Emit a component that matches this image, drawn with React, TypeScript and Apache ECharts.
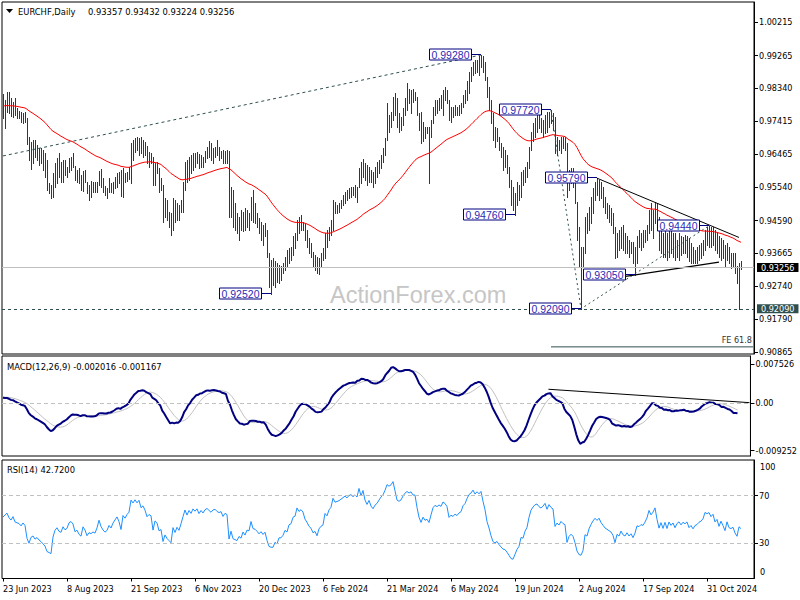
import React, { useEffect, useRef } from "react";
import * as echarts from "echarts";

// ---------------- data ----------------
const HIGH = [
  0.9817,0.9800,0.9822,0.9822,0.9807,0.9794,0.9805,0.9779,0.9769,0.9767,
  0.9763,0.9767,0.9750,0.9696,0.9682,0.9687,0.9687,0.9673,0.9664,0.9665,
  0.9659,0.9649,0.9630,0.9564,0.9560,0.9593,0.9621,0.9635,0.9649,0.9626,
  0.9630,0.9630,0.9611,0.9635,0.9640,0.9649,0.9614,0.9602,0.9607,0.9588,
  0.9599,0.9602,0.9569,0.9560,0.9571,0.9569,0.9567,0.9569,0.9599,0.9605,
  0.9580,0.9558,0.9552,0.9579,0.9564,0.9569,0.9583,0.9593,0.9596,0.9602,
  0.9607,0.9593,0.9597,0.9611,0.9678,0.9687,0.9693,0.9696,0.9693,0.9696,
  0.9687,0.9682,0.9670,0.9653,0.9650,0.9639,0.9622,0.9625,0.9608,0.9580,
  0.9560,0.9523,0.9517,0.9483,0.9480,0.9523,0.9517,0.9509,0.9503,0.9517,
  0.9568,0.9625,0.9630,0.9640,0.9645,0.9650,0.9650,0.9652,0.9648,0.9645,
  0.9640,0.9655,0.9668,0.9683,0.9678,0.9664,0.9668,0.9687,0.9668,0.9657,
  0.9659,0.9655,0.9659,0.9655,0.9555,0.9546,0.9508,0.9480,0.9470,0.9489,
  0.9484,0.9494,0.9489,0.9480,0.9527,0.9546,0.9508,0.9480,0.9465,0.9456,
  0.9447,0.9451,0.9433,0.9366,0.9347,0.9352,0.9343,0.9338,0.9333,0.9329,
  0.9338,0.9357,0.9376,0.9380,0.9385,0.9414,0.9423,0.9461,0.9470,0.9475,
  0.9456,0.9451,0.9433,0.9409,0.9395,0.9371,0.9362,0.9357,0.9352,0.9366,
  0.9380,0.9423,0.9433,0.9442,0.9461,0.9517,0.9512,0.9503,0.9508,0.9517,
  0.9531,0.9541,0.9546,0.9550,0.9555,0.9555,0.9560,0.9555,0.9607,0.9626,
  0.9633,0.9623,0.9617,0.9612,0.9602,0.9597,0.9612,0.9626,0.9631,0.9645,
  0.9664,0.9692,0.9791,0.9758,0.9767,0.9810,0.9819,0.9805,0.9763,0.9753,
  0.9777,0.9805,0.9848,0.9833,0.9829,0.9833,0.9824,0.9810,0.9763,0.9767,
  0.9739,0.9725,0.9725,0.9725,0.9744,0.9782,0.9801,0.9801,0.9805,0.9815,
  0.9829,0.9836,0.9829,0.9801,0.9782,0.9782,0.9786,0.9782,0.9786,0.9791,
  0.9815,0.9829,0.9853,0.9881,0.9895,0.9909,0.9914,0.9914,0.9925,0.9928,
  0.9925,0.9909,0.9867,0.9838,0.9801,0.9763,0.9725,0.9720,0.9697,0.9678,
  0.9668,0.9659,0.9645,0.9612,0.9574,0.9555,0.9536,0.9569,0.9560,0.9597,
  0.9602,0.9612,0.9626,0.9668,0.9711,0.9734,0.9749,0.9765,0.9758,0.9749,
  0.9744,0.9758,0.9767,0.9767,0.9772,0.9763,0.9753,0.9697,0.9687,0.9697,
  0.9697,0.9697,0.9678,0.9602,0.9607,0.9607,0.9569,0.9512,0.9442,0.9385,
  0.9385,0.9470,0.9480,0.9498,0.9527,0.9550,0.9569,0.9579,0.9574,0.9569,
  0.9555,0.9527,0.9508,0.9503,0.9494,0.9480,0.9442,0.9423,0.9433,0.9442,
  0.9446,0.9423,0.9414,0.9404,0.9399,0.9399,0.9385,0.9414,0.9433,0.9423,
  0.9433,0.9433,0.9446,0.9489,0.9508,0.9489,0.9512,0.9508,0.9470,0.9442,
  0.9423,0.9433,0.9423,0.9433,0.9428,0.9423,0.9423,0.9404,0.9423,0.9414,
  0.9411,0.9418,0.9414,0.9409,0.9395,0.9385,0.9376,0.9385,0.9390,0.9395,
  0.9404,0.9433,0.9442,0.9444,0.9440,0.9442,0.9433,0.9423,0.9414,0.9409,
  0.9404,0.9390,0.9395,0.9385,0.9366,0.9366,0.9366,0.9329,0.9338,0.93432,
];
const LOW = [
  0.9750,0.9722,0.9767,0.9763,0.9756,0.9753,0.9758,0.9750,0.9749,0.9737,
  0.9734,0.9737,0.9675,0.9630,0.9605,0.9621,0.9640,0.9630,0.9616,0.9621,
  0.9602,0.9583,0.9545,0.9536,0.9522,0.9527,0.9555,0.9564,0.9583,0.9569,
  0.9569,0.9588,0.9583,0.9597,0.9602,0.9611,0.9574,0.9569,0.9564,0.9545,
  0.9543,0.9569,0.9536,0.9517,0.9527,0.9541,0.9541,0.9541,0.9560,0.9555,
  0.9541,0.9531,0.9522,0.9541,0.9541,0.9536,0.9550,0.9555,0.9564,0.9529,
  0.9527,0.9569,0.9571,0.9578,0.9564,0.9630,0.9653,0.9659,0.9645,0.9650,
  0.9639,0.9645,0.9622,0.9611,0.9622,0.9560,0.9560,0.9594,0.9540,0.9545,
  0.9455,0.9469,0.9460,0.9441,0.9418,0.9432,0.9455,0.9460,0.9460,0.9483,
  0.9483,0.9545,0.9568,0.9574,0.9593,0.9602,0.9612,0.9621,0.9607,0.9612,
  0.9612,0.9626,0.9636,0.9640,0.9631,0.9621,0.9640,0.9645,0.9631,0.9636,
  0.9621,0.9621,0.9621,0.9470,0.9470,0.9442,0.9433,0.9423,0.9404,0.9433,
  0.9428,0.9433,0.9442,0.9433,0.9461,0.9456,0.9451,0.9442,0.9423,0.9404,
  0.9390,0.9414,0.9357,0.9272,0.9252,0.9276,0.9272,0.9286,0.9281,0.9291,
  0.9310,0.9319,0.9329,0.9338,0.9347,0.9362,0.9380,0.9404,0.9423,0.9433,
  0.9433,0.9404,0.9385,0.9366,0.9357,0.9329,0.9319,0.9310,0.9308,0.9329,
  0.9347,0.9352,0.9385,0.9404,0.9418,0.9433,0.9480,0.9480,0.9484,0.9494,
  0.9503,0.9508,0.9517,0.9522,0.9527,0.9531,0.9527,0.9512,0.9555,0.9565,
  0.9583,0.9574,0.9560,0.9569,0.9569,0.9555,0.9565,0.9583,0.9593,0.9607,
  0.9626,0.9645,0.9687,0.9711,0.9725,0.9744,0.9758,0.9725,0.9711,0.9716,
  0.9730,0.9758,0.9772,0.9791,0.9763,0.9796,0.9801,0.9758,0.9716,0.9678,
  0.9683,0.9692,0.9706,0.9565,0.9697,0.9734,0.9758,0.9763,0.9772,0.9777,
  0.9758,0.9801,0.9791,0.9744,0.9739,0.9753,0.9758,0.9758,0.9758,0.9763,
  0.9782,0.9791,0.9801,0.9819,0.9853,0.9871,0.9876,0.9881,0.9871,0.9895,
  0.9881,0.9857,0.9810,0.9772,0.9734,0.9687,0.9668,0.9683,0.9659,0.9640,
  0.9602,0.9612,0.9593,0.9555,0.9503,0.9489,0.9476,0.9503,0.9517,0.9527,
  0.9560,0.9569,0.9583,0.9607,0.9659,0.9683,0.9697,0.9711,0.9720,0.9711,
  0.9697,0.9706,0.9711,0.9725,0.9734,0.9716,0.9650,0.9645,0.9659,0.9650,
  0.9664,0.9659,0.9527,0.9546,0.9565,0.9555,0.9508,0.9404,0.9329,0.9209,
  0.9329,0.9366,0.9423,0.9433,0.9451,0.9480,0.9517,0.9531,0.9517,0.9522,
  0.9498,0.9480,0.9465,0.9456,0.9446,0.9423,0.9352,0.9357,0.9376,0.9380,
  0.9376,0.9366,0.9366,0.9357,0.9366,0.9338,0.9305,0.9338,0.9385,0.9376,
  0.9385,0.9399,0.9404,0.9423,0.9433,0.9409,0.9451,0.9433,0.9376,0.9366,
  0.9357,0.9357,0.9347,0.9357,0.9366,0.9357,0.9347,0.9357,0.9347,0.9362,
  0.9366,0.9366,0.9357,0.9343,0.9338,0.9338,0.9338,0.9338,0.9347,0.9352,
  0.9362,0.9376,0.9390,0.9385,0.9385,0.9390,0.9376,0.9366,0.9357,0.9347,
  0.9352,0.9329,0.9347,0.9338,0.9324,0.9329,0.9310,0.9281,0.9209,0.93224,
];
const CLOSE = [
  0.9780,0.9790,0.9800,0.9780,0.9770,0.9785,0.9762,0.9758,0.9755,0.9745,
  0.9755,0.9745,0.9680,0.9645,0.9665,0.9670,0.9650,0.9655,0.9640,0.9630,
  0.9615,0.9600,0.9555,0.9545,0.9535,0.9585,0.9610,0.9620,0.9600,0.9595,
  0.9615,0.9600,0.9605,0.9625,0.9630,0.9620,0.9585,0.9590,0.9570,0.9560,
  0.9590,0.9575,0.9545,0.9555,0.9550,0.9555,0.9550,0.9565,0.9590,0.9565,
  0.9550,0.9540,0.9545,0.9560,0.9550,0.9565,0.9575,0.9585,0.9570,0.9540,
  0.9590,0.9580,0.9595,0.9605,0.9670,0.9660,0.9680,0.9670,0.9685,0.9660,
  0.9670,0.9655,0.9630,0.9640,0.9635,0.9570,0.9610,0.9600,0.9555,0.9560,
  0.9470,0.9500,0.9470,0.9450,0.9430,0.9505,0.9465,0.9495,0.9470,0.9510,
  0.9560,0.9615,0.9580,0.9620,0.9600,0.9640,0.9625,0.9645,0.9615,0.9640,
  0.9625,0.9650,0.9660,0.9650,0.9640,0.9655,0.9660,0.9650,0.9645,0.9650,
  0.9630,0.9645,0.9640,0.9490,0.9530,0.9460,0.9450,0.9440,0.9460,0.9445,
  0.9475,0.9450,0.9475,0.9470,0.9520,0.9470,0.9465,0.9450,0.9430,0.9440,
  0.9420,0.9430,0.9365,0.9300,0.9290,0.9290,0.9310,0.9295,0.9320,0.9320,
  0.9330,0.9350,0.9340,0.9370,0.9375,0.9405,0.9410,0.9455,0.9440,0.9450,
  0.9440,0.9410,0.9395,0.9375,0.9365,0.9340,0.9345,0.9320,0.9345,0.9355,
  0.9360,0.9410,0.9400,0.9430,0.9445,0.9505,0.9490,0.9495,0.9500,0.9510,
  0.9520,0.9530,0.9525,0.9540,0.9545,0.9540,0.9550,0.9545,0.9600,0.9580,
  0.9620,0.9590,0.9575,0.9600,0.9580,0.9570,0.9590,0.9600,0.9620,0.9640,
  0.9655,0.9690,0.9750,0.9745,0.9760,0.9800,0.9770,0.9735,0.9730,0.9740,
  0.9770,0.9795,0.9810,0.9805,0.9815,0.9805,0.9805,0.9765,0.9725,0.9700,
  0.9725,0.9710,0.9715,0.9700,0.9735,0.9775,0.9790,0.9785,0.9795,0.9790,
  0.9815,0.9810,0.9800,0.9760,0.9770,0.9765,0.9775,0.9770,0.9780,0.9785,
  0.9810,0.9820,0.9845,0.9870,0.9880,0.9900,0.9890,0.9905,0.9900,0.9915,
  0.9890,0.9865,0.9820,0.9790,0.9745,0.9700,0.9690,0.9695,0.9670,0.9650,
  0.9630,0.9625,0.9600,0.9565,0.9520,0.9510,0.9525,0.9540,0.9550,0.9580,
  0.9575,0.9600,0.9615,0.9660,0.9700,0.9720,0.9735,0.9740,0.9730,0.9725,
  0.9735,0.9750,0.9730,0.9755,0.9745,0.9740,0.9665,0.9680,0.9670,0.9685,
  0.9675,0.9670,0.9555,0.9580,0.9590,0.9575,0.9520,0.9420,0.9360,0.9350,
  0.9370,0.9455,0.9440,0.9485,0.9515,0.9540,0.9560,0.9545,0.9560,0.9530,
  0.9510,0.9490,0.9480,0.9470,0.9460,0.9435,0.9370,0.9410,0.9395,0.9420,
  0.9390,0.9380,0.9395,0.9370,0.9380,0.9350,0.9370,0.9405,0.9400,0.9410,
  0.9405,0.9420,0.9440,0.9480,0.9460,0.9475,0.9500,0.9445,0.9390,0.9420,
  0.9380,0.9415,0.9370,0.9410,0.9385,0.9400,0.9365,0.9390,0.9400,0.9380,
  0.9395,0.9385,0.9395,0.9360,0.9370,0.9350,0.9365,0.9370,0.9380,0.9385,
  0.9395,0.9425,0.9420,0.9425,0.9410,0.9420,0.9390,0.9400,0.9370,0.9390,
  0.9370,0.9345,0.9380,0.9350,0.9345,0.9350,0.9320,0.9300,0.9336,0.93256,
];

// indicator starting values read at the first bar of the picture
const EMA55_START = 0.9784;
const EMA12_START = 0.9790;
const EMA26_START = 0.9778;
const SIGNAL_START = 0.0012;
const RSI_GAIN_START = 0.00112;
const RSI_LOSS_START = 0.00104;

const DATE_TICKS = [
  "23 Jun 2023", "8 Aug 2023", "21 Sep 2023", "6 Nov 2023", "20 Dec 2023", "6 Feb 2024",
  "21 Mar 2024", "6 May 2024", "19 Jun 2024", "2 Aug 2024", "17 Sep 2024", "31 Oct 2024",
];
const PRICE_TICKS = [1.00215, 0.99265, 0.9834, 0.97415, 0.96465, 0.9554, 0.9459, 0.93665, 0.9274, 0.9179, 0.90865];
const MACD_TICKS = [0.007526, 0, -0.009252];
const RSI_TICKS = [30, 70];

const PIVOT_INDEX = [134, 239, 256, 274, 289, 297, 316, 353];
const PIVOT_PRICE = [0.9252, 0.9928, 0.9476, 0.9772, 0.9209, 0.9579, 0.9305, 0.9444];

const LONG_TREND = [[0, 0.9642], [239, 0.9928]];
const TRI_UPPER = [[297, 0.9579], [368, 0.9411]];
const TRI_LOWER = [[308, 0.9298], [358, 0.9341]];
const FIB_PATH = [[274, 0.9772], [289, 0.9209], [353, 0.9444]];
const FE_LEVEL = [[274, 0.9101], [375, 0.9101]];
const MACD_TREND = [[274, 0.00268], [375, 0.00008]];

const LAST_PRICE = 0.93256;
const SUPPORT = 0.9209;

const HEADER_NAME = "EURCHF,Daily";
const HEADER_OHLC = "0.93357 0.93432 0.93224 0.93256";
const MACD_TITLE = "MACD(12,26,9) -0.002016 -0.001167";
const RSI_TITLE = "RSI(14) 42.7200";

// ---------------- helpers ----------------
const MONTHS = ["Jan", "Feb", "Mar", "Apr", "May", "Jun", "Jul", "Aug", "Sep", "Oct", "Nov", "Dec"];
const N_CAT = CLOSE.length + 6;
function buildDates(n: number) {
  const out: string[] = [];
  const d = new Date(Date.UTC(2023, 5, 23));
  while (out.length < n) {
    const wd = d.getUTCDay();
    const m = d.getUTCMonth();
    const day = d.getUTCDate();
    const holiday = (m === 11 && day === 25) || (m === 0 && day === 1);
    if (wd !== 0 && wd !== 6 && !holiday) out.push(`${day} ${MONTHS[m]} ${d.getUTCFullYear()}`);
    d.setUTCDate(day + 1);
  }
  return out;
}
function ema(vals: number[], period: number, start: number) {
  const k = 2 / (period + 1);
  let prev = start;
  return vals.map((v) => (prev = prev + k * (v - prev)));
}

const FONT = '"DejaVu Sans Condensed", "Liberation Sans", Arial, sans-serif';
const BAR_COLOR = "#173f5c";
const SLATE = "#2f4f4f";
const NAVY = "#000080";

export default function App() {
  const ref = useRef<HTMLDivElement>(null);
  useEffect(() => {
    document.body.style.margin = "0";
    const chart = echarts.init(ref.current!, null, { renderer: "svg" });

    const cats = buildDates(N_CAT);
    const ma = ema(CLOSE, 55, EMA55_START);
    const e12 = ema(CLOSE, 12, EMA12_START);
    const e26 = ema(CLOSE, 26, EMA26_START);
    const macd = e12.map((v, i) => v - e26[i]);
    const signal = macd.map((_, i) => {
      let s = 0;
      for (let j = i - 8; j <= i; j++) s += j >= 0 ? macd[j] : SIGNAL_START;
      return s / 9;
    });
    let ag = RSI_GAIN_START, al = RSI_LOSS_START;
    const rsi = CLOSE.map((c, i) => {
      if (i > 0) {
        const d = c - CLOSE[i - 1];
        ag = (ag * 13 + Math.max(d, 0)) / 14;
        al = (al * 13 + Math.max(-d, 0)) / 14;
      }
      return 100 - 100 / (1 + ag / al);
    });

    const tickInt = (idx: number) => idx % 32 === 0;
    const xAxes = [0, 1, 2].map((g) => ({
      type: "category",
      gridIndex: g,
      data: cats,
      boundaryGap: true,
      axisLine: { show: false },
      axisTick: g === 2
        ? { show: true, alignWithLabel: true, interval: tickInt, length: 3, lineStyle: { color: "#000" } }
        : { show: false },
      axisLabel: g === 2
        ? {
            show: true, interval: tickInt, align: "left", color: "#000", fontSize: 9, margin: 6,
            fontFamily: FONT,
            formatter: (_v: string, idx: number) => DATE_TICKS[idx / 32] ?? "",
          }
        : { show: false },
      splitLine: { show: false },
    }));

    const yBase = (g: number, min: number, max: number, ticks: number[], fmt: (v: number) => string) => ({
      type: "value",
      gridIndex: g,
      position: "right",
      min,
      max,
      axisLine: { show: true, lineStyle: { color: "#000" } },
      axisTick: { show: true, customValues: ticks, length: 4, lineStyle: { color: "#000" } },
      axisLabel: { customValues: ticks, formatter: fmt, color: "#000", fontSize: 9, margin: 5, fontFamily: FONT },
      splitLine: { show: false },
    });

    const lineSeries = (data: any, color: string, width: number, type: any, x: number, extra: any = {}) => ({
      type: "line",
      xAxisIndex: x,
      yAxisIndex: x,
      data,
      showSymbol: false,
      symbol: "none",
      silent: true,
      lineStyle: { color, width, type },
      ...extra,
    });

    const option: any = {
      animation: false,
      backgroundColor: "#ffffff",
      textStyle: { fontFamily: FONT },
      grid: [
        { left: 2, top: 2, width: 752, height: 352, show: true, borderColor: "#000", borderWidth: 1 },
        { left: 2, top: 356, width: 752, height: 100, show: true, borderColor: "#000", borderWidth: 1 },
        { left: 2, top: 460, width: 752, height: 118.5, show: true, borderColor: "#000", borderWidth: 1 },
      ],
      xAxis: xAxes,
      yAxis: [
        yBase(0, 0.90808, 1.00782, PRICE_TICKS, (v) => v.toFixed(5)),
        yBase(1, -0.010281, 0.009138, MACD_TICKS, (v) => (v === 0 ? "0.00" : v.toFixed(6))),
        yBase(2, 0, 100, RSI_TICKS, (v) => String(v)),
      ],
      series: [
        lineSeries(LONG_TREND, SLATE, 1, [3, 3], 0),
        lineSeries(FIB_PATH, SLATE, 1, [2, 3], 0),
        lineSeries(FE_LEVEL, SLATE, 1, "solid", 0),
        {
          type: "custom",
          xAxisIndex: 0,
          yAxisIndex: 0,
          silent: true,
          data: HIGH.map((h, i) => [i, h, LOW[i]]),
          encode: { x: 0, y: [1, 2] },
          renderItem: (_p: any, api: any) => {
            const i = api.value(0);
            const top = api.coord([i, api.value(1)]);
            const bot = api.coord([i, api.value(2)]);
            const x = Math.round(top[0]) + 0.5;
            return {
              type: "line",
              shape: { x1: x, y1: Math.round(top[1]), x2: x, y2: Math.round(bot[1]) + 1 },
              style: { stroke: BAR_COLOR, lineWidth: 1 },
            };
          },
        },
        lineSeries(ma, "#ff0000", 1, "solid", 0, {
          markLine: {
            silent: true,
            symbol: ["none", "none"],
            precision: 5,
            animation: false,
            data: [
              {
                yAxis: LAST_PRICE,
                lineStyle: { color: "#c0c0c0", type: "solid", width: 1 },
                label: {
                  show: true, position: "end", distance: 3, formatter: LAST_PRICE.toFixed(5),
                  color: "#fff", backgroundColor: "#000", padding: [0, 4, 0, 4], fontSize: 9, fontFamily: FONT,
                },
              },
              {
                yAxis: SUPPORT,
                lineStyle: { color: SLATE, type: [3, 3], width: 1 },
                label: {
                  show: true, position: "end", distance: 3, formatter: SUPPORT.toFixed(5),
                  color: "#fff", backgroundColor: SLATE, padding: [0, 4, 0, 4], fontSize: 9, fontFamily: FONT,
                },
              },
            ],
          },
        }),
        lineSeries(TRI_UPPER, "#000", 1, "solid", 0),
        lineSeries(TRI_LOWER, "#000", 1.3, "solid", 0),
        {
          type: "custom",
          xAxisIndex: 0,
          yAxisIndex: 0,
          silent: true,
          z: 10,
          data: PIVOT_INDEX.map((x, k) => [x, PIVOT_PRICE[k]]),
          encode: { x: 0, y: 1 },
          renderItem: (params: any, api: any) => {
            const p = api.coord([api.value(0), api.value(1)]);
            const y = Math.round(p[1]) - 0.5;
            const bx = Math.round(p[0]);
            const right = bx - 10;
            const w = 42, h = 11;
            return {
              type: "group",
              children: [
                { type: "line", shape: { x1: right, y1: y, x2: bx, y2: y }, style: { stroke: NAVY, lineWidth: 1 } },
                {
                  type: "rect",
                  shape: { x: right - w + 0.5, y: y - h / 2, width: w, height: h },
                  style: { fill: "#fff", stroke: NAVY, lineWidth: 1 },
                },
                {
                  type: "text",
                  style: {
                    text: PIVOT_PRICE[params.dataIndex].toFixed(5),
                    x: right - w / 2 + 0.5, y: y + 0.5, align: "center", verticalAlign: "middle",
                    fill: "#2a2ab4", fontSize: 10.5, fontFamily: '"Liberation Sans", Arial, sans-serif',
                  },
                },
              ],
            };
          },
        },
        // MACD panel
        lineSeries(signal, "#c0c0c0", 1, "solid", 1),
        lineSeries(macd, NAVY, 2, "solid", 1, {
          markLine: {
            silent: true,
            symbol: ["none", "none"],
            precision: 6,
            label: { show: false },
            lineStyle: { color: "#c0c0c0", type: [4, 3], width: 1 },
            data: [{ yAxis: 0 }],
          },
        }),
        lineSeries(MACD_TREND, "#000", 1, "solid", 1),
        // RSI panel
        lineSeries(rsi, "#1e90ff", 1, "solid", 2, {
          markLine: {
            silent: true,
            symbol: ["none", "none"],
            label: { show: false },
            lineStyle: { color: "#c0c0c0", type: [4, 3], width: 1 },
            data: RSI_TICKS.map((v) => ({ yAxis: v })),
          },
        }),
      ],
      graphic: [
        { type: "polygon", shape: { points: [[6, 9], [13, 9], [9.5, 13]] }, style: { fill: "#000" } },
        { type: "text", x: 18, y: 11, style: { text: HEADER_NAME, fill: "#000", fontSize: 9.3, fontFamily: FONT, verticalAlign: "middle" } },
        { type: "text", x: 88, y: 11, style: { text: HEADER_OHLC, fill: "#000", fontSize: 9.3, fontFamily: FONT, verticalAlign: "middle" } },
        { type: "text", x: 7, y: 366, style: { text: MACD_TITLE, fill: "#000", fontSize: 9.3, fontFamily: FONT, verticalAlign: "middle" } },
        { type: "text", x: 7, y: 469, style: { text: RSI_TITLE, fill: "#000", fontSize: 9.3, fontFamily: FONT, verticalAlign: "middle" } },
        { type: "text", x: 760, y: 466.5, style: { text: "100", fill: "#000", fontSize: 9, fontFamily: FONT, verticalAlign: "middle" } },
        { type: "text", x: 760, y: 572, style: { text: "0", fill: "#000", fontSize: 9, fontFamily: FONT, verticalAlign: "middle" } },
        { type: "text", x: 752, y: 340, style: { text: "FE 61.8", fill: "#333", fontSize: 9, fontFamily: FONT, align: "right", verticalAlign: "middle" } },
        {
          type: "text", x: 330, y: 295, z: -1,
          style: { text: "ActionForex.com", fill: "#c6c6c6", fontSize: 23.5, fontFamily: '"Liberation Sans", Arial, sans-serif', verticalAlign: "middle" },
        },
      ],
    };

    chart.setOption(option);
    return () => chart.dispose();
  }, []);

  return <div ref={ref} style={{ width: 800, height: 600 }} />;
}
